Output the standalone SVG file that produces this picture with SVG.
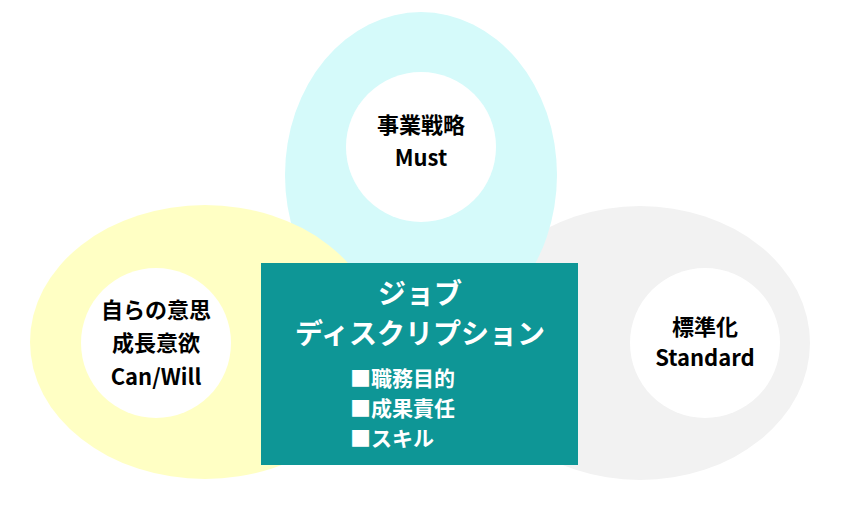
<svg xmlns="http://www.w3.org/2000/svg" width="852" height="515" viewBox="0 0 852 515">
<style>
text{font-family:"Noto Sans CJK JP","Noto Sans",sans-serif;font-weight:bold;text-anchor:middle}
.d{fill:#000;font-size:22px}
.w{fill:#fff}
.c{fill:#fff}
</style>
<rect width="852" height="515" fill="#fff"/>
<g id="standard-bg"><ellipse cx="640" cy="343" rx="170" ry="137" fill="#f2f2f2"/></g>
<g id="must-bg"><ellipse cx="421" cy="175" rx="136" ry="163" fill="#d5fafa"/></g>
<g id="canwill-bg"><ellipse cx="205" cy="342" rx="175" ry="137" fill="#ffffc4"/></g>
<g id="must"><circle class="c" cx="421" cy="147" r="75"/>
<text class="d" x="421" y="133">事業戦略</text><text class="d" x="421" y="166">Must</text></g>
<g id="canwill"><circle class="c" cx="156" cy="343" r="75"/>
<text class="d" x="156" y="318">自らの意思</text><text class="d" x="156" y="351">成長意欲</text><text class="d" x="156" y="385">Can/Will</text></g>
<g id="standard"><circle class="c" cx="705" cy="343" r="75"/>
<text class="d" x="705" y="335">標準化</text><text class="d" x="705" y="366">Standard</text></g>
<g id="jd"><rect x="261" y="263" width="317" height="202" fill="#0e9696"/>
<text class="w" x="420" y="304" font-size="28">ジョブ</text>
<text class="w" x="420" y="344" font-size="28">ディスクリプション</text>
<g style="text-anchor:start" font-size="21"><text class="w" x="350" y="386" style="text-anchor:start">■職務目的</text>
<text class="w" x="350" y="416" style="text-anchor:start">■成果責任</text>
<text class="w" x="350" y="446" style="text-anchor:start">■スキル</text></g></g>
<g id="connectors"/>
</svg>
